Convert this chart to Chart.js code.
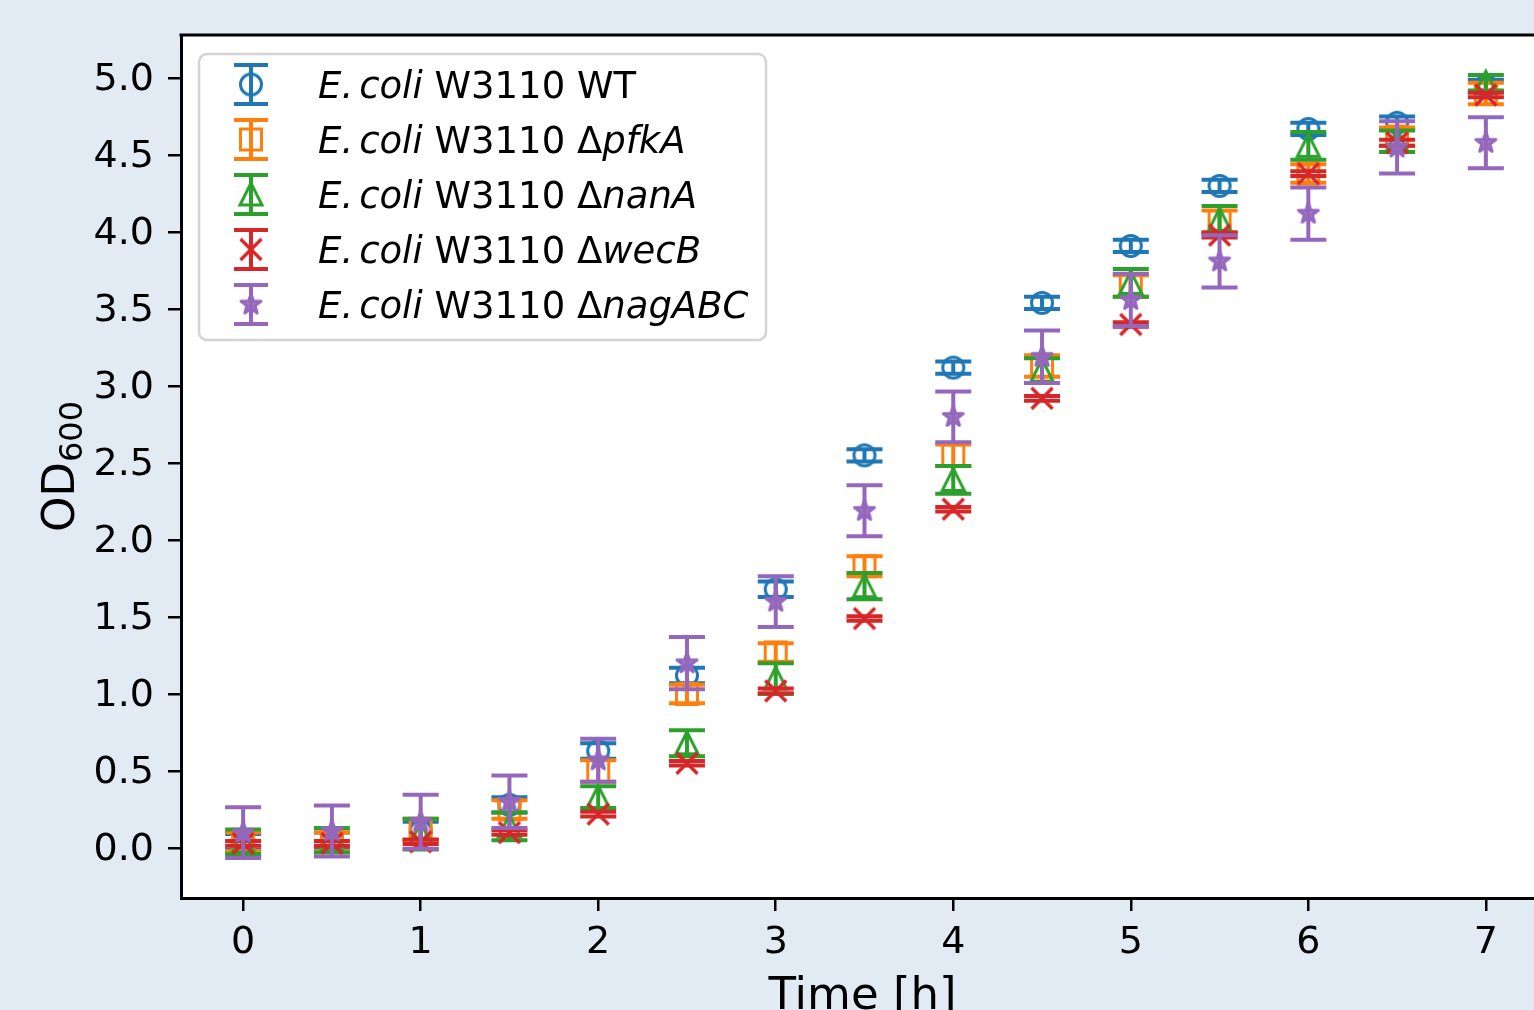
<!DOCTYPE html>
<html>
<head>
<meta charset="utf-8">
<script src="https://cdn.jsdelivr.net/npm/chart.js@4.4.1/dist/chart.umd.min.js"></script>
<style>
html,body{margin:0;padding:0;background:#e2eaf4;overflow:hidden;}
#wrap{position:relative;width:1534px;height:1010px;overflow:hidden;}
canvas{display:block;}
</style>
</head>
<body>
<div id="wrap"><canvas id="c" width="1548" height="1010"></canvas></div>
<script>
// ---------- data ----------
const times = [0, 0.5, 1, 1.5, 2, 2.5, 3, 3.5, 4, 4.5, 5, 5.5, 6, 6.5, 7];

const odWT      = [0.04, 0.05, 0.11, 0.28, 0.63, 1.12, 1.68, 2.55, 3.12, 3.54, 3.91, 4.30, 4.67, 4.71, 4.95];
const errWT     = [0.05, 0.05, 0.06, 0.05, 0.05, 0.05, 0.05, 0.04, 0.04, 0.04, 0.04, 0.04, 0.04, 0.04, 0.04];

const odPfkA    = [0.04, 0.04, 0.12, 0.25, 0.50, 1.00, 1.27, 1.83, 2.55, 3.13, 3.65, 4.07, 4.38, 4.62, 4.90];
const errPfkA   = [0.06, 0.06, 0.07, 0.06, 0.07, 0.06, 0.06, 0.065, 0.07, 0.07, 0.07, 0.07, 0.06, 0.06, 0.07];

const odNanA    = [0.04, 0.05, 0.09, 0.14, 0.33, 0.68, 1.10, 1.70, 2.39, 3.10, 3.67, 4.08, 4.56, 4.59, 4.97];
const errNanA   = [0.08, 0.08, 0.10, 0.09, 0.07, 0.085, 0.10, 0.085, 0.09, 0.08, 0.09, 0.09, 0.09, 0.07, 0.05];

const odWecB    = [0.03, 0.03, 0.04, 0.10, 0.22, 0.55, 1.02, 1.49, 2.20, 2.92, 3.40, 3.98, 4.38, 4.58, 4.89];
const errWecB   = [0.015, 0.015, 0.015, 0.015, 0.015, 0.015, 0.015, 0.015, 0.015, 0.015, 0.015, 0.015, 0.015, 0.02, 0.015];

const odNagABC  = [0.10, 0.11, 0.17, 0.30, 0.57, 1.20, 1.60, 2.19, 2.80, 3.19, 3.56, 3.81, 4.12, 4.55, 4.58];
const errNagABC = [0.165, 0.165, 0.175, 0.17, 0.14, 0.17, 0.165, 0.165, 0.165, 0.17, 0.17, 0.17, 0.17, 0.17, 0.165];

const strainGenes = ['WT', 'pfkA', 'nanA', 'wecB', 'nagABC'];
const xTickValues = [0, 1, 2, 3, 4, 5, 6, 7];
const yTickValues = [0, 0.5, 1, 1.5, 2, 2.5, 3, 3.5, 4, 4.5, 5];
const xLimits = [-0.35, 7.35];
const yLimits = [-0.325, 5.28];

// ---------- styles ----------
const seriesValues = [odWT, odPfkA, odNanA, odWecB, odNagABC];
const seriesErrors = [errWT, errPfkA, errNanA, errWecB, errNagABC];
const colors = ['#1f77b4', '#ff7f0e', '#2ca02c', '#d62728', '#9467bd'];
const markerKinds = ['circle', 'square', 'triangle', 'x', 'star'];
const FONT = '"DejaVu Sans", "Liberation Sans", sans-serif';
const CAP = 18, ELW = 4, SPINE = 3;

function makeMarker(kind, color) {
  const S = 36, c = document.createElement('canvas');
  c.width = S; c.height = S;
  const g = c.getContext('2d');
  g.translate(S / 2, S / 2);
  g.strokeStyle = color; g.fillStyle = color; g.lineWidth = 3; g.lineJoin = 'miter';
  const r = 10.5;
  g.beginPath();
  if (kind === 'circle') {
    g.arc(0, 0, r, 0, Math.PI * 2);
  } else if (kind === 'square') {
    g.rect(-r, -r, 2 * r, 2 * r);
  } else if (kind === 'triangle') {
    g.moveTo(0, -r - 1); g.lineTo(-r - 0.5, r); g.lineTo(r + 0.5, r); g.closePath();
  } else if (kind === 'x') {
    g.lineWidth = 3.5;
    g.moveTo(-r, -r); g.lineTo(r, r); g.moveTo(-r, r); g.lineTo(r, -r);
  } else if (kind === 'star') {
    g.lineJoin = 'round';
    g.lineWidth = 3;
    const R = 10.5, ri = R * 0.40;
    for (let k = 0; k < 10; k++) {
      const a = -Math.PI / 2 + k * Math.PI / 5;
      const rr = k % 2 ? ri : R;
      const px = Math.cos(a) * rr, py = Math.sin(a) * rr;
      if (k === 0) g.moveTo(px, py); else g.lineTo(px, py);
    }
    g.closePath();
    g.globalAlpha = 0.85;
    g.fill();
    g.globalAlpha = 1;
  }
  g.stroke();
  return c;
}
const markerImgs = markerKinds.map((k, i) => makeMarker(k, colors[i]));

const datasets = seriesValues.map((vals, i) => ({
  label: strainGenes[i],
  data: times.map((t, j) => ({ x: t, y: vals[j] })),
  errors: seriesErrors[i],
  pointStyle: markerImgs[i],
  pointRadius: 11,
  showLine: false,
  borderColor: colors[i],
  backgroundColor: 'transparent',
  order: seriesValues.length - i
}));

// ---------- plugins ----------
const bgPlugin = {
  id: 'bg',
  beforeDraw(chart) {
    const { ctx, chartArea: a } = chart;
    ctx.save(); ctx.fillStyle = '#ffffff';
    ctx.fillRect(a.left, a.top, a.right - a.left, a.bottom - a.top);
    ctx.restore();
  }
};

// nudge y tick labels slightly down (matplotlib centre-baseline alignment)
const labelShiftPlugin = {
  id: 'labelshift',
  afterLayout(chart) {
    const ys = chart.scales.y;
    if (ys && !ys._shifted) {
      const orig = ys.drawLabels.bind(ys);
      ys.drawLabels = function (area) {
        const ctx = this.ctx;
        ctx.save(); ctx.translate(0, 2); orig(area); ctx.restore();
      };
      ys._shifted = true;
    }
  }
};

const errorBarPlugin = {
  id: 'errorbars',
  beforeDatasetDraw(chart, args) {
    const ds = chart.data.datasets[args.index];
    const xs = chart.scales.x, ys = chart.scales.y;
    const ctx = chart.ctx;
    const a = chart.chartArea;
    ctx.save();
    ctx.beginPath();
    ctx.rect(a.left, a.top, a.right - a.left, a.bottom - a.top);
    ctx.clip();
    ctx.strokeStyle = ds.borderColor; ctx.lineWidth = ELW; ctx.lineCap = 'butt';
    ds.data.forEach((p, j) => {
      const e = ds.errors[j];
      const px = xs.getPixelForValue(p.x);
      const y1 = ys.getPixelForValue(p.y + e), y2 = ys.getPixelForValue(p.y - e);
      ctx.beginPath();
      ctx.moveTo(px, y1); ctx.lineTo(px, y2);
      ctx.moveTo(px - CAP, y1); ctx.lineTo(px + CAP, y1);
      ctx.moveTo(px - CAP, y2); ctx.lineTo(px + CAP, y2);
      ctx.stroke();
    });
    ctx.restore();
  }
};

const decorPlugin = {
  id: 'decor',
  afterDraw(chart) {
    const { ctx, chartArea: a } = chart;
    ctx.save();
    // top & right spines
    ctx.strokeStyle = '#000'; ctx.lineWidth = SPINE;
    ctx.beginPath();
    ctx.moveTo(a.left - SPINE / 2, a.top); ctx.lineTo(a.right, a.top); ctx.lineTo(a.right, a.bottom);
    ctx.stroke();

    // y axis title: OD with subscript 600
    ctx.fillStyle = '#000';
    ctx.textBaseline = 'alphabetic';
    ctx.font = '45px ' + FONT;
    const w1 = ctx.measureText('OD').width;
    ctx.font = '32px ' + FONT;
    const w2 = ctx.measureText('600').width;
    ctx.translate(74, (a.top + a.bottom) / 2);
    ctx.rotate(-Math.PI / 2);
    const start = -(w1 + w2) / 2;
    ctx.font = '45px ' + FONT;
    ctx.textAlign = 'left';
    ctx.fillText('OD', start, 0);
    ctx.font = '32px ' + FONT;
    ctx.fillText('600', start + w1, 8);
    ctx.setTransform(1, 0, 0, 1, 0, 0);

    // x axis title
    ctx.font = '45px ' + FONT;
    ctx.textAlign = 'center';
    ctx.fillText('Time [h]', (a.left + a.right) / 2 - 2, 1009);

    // legend
    const lx = 199, ly = 54, lw = 567, lh = 286, rad = 8;
    ctx.beginPath();
    ctx.moveTo(lx + rad, ly);
    ctx.arcTo(lx + lw, ly, lx + lw, ly + lh, rad);
    ctx.arcTo(lx + lw, ly + lh, lx, ly + lh, rad);
    ctx.arcTo(lx, ly + lh, lx, ly, rad);
    ctx.arcTo(lx, ly, lx + lw, ly, rad);
    ctx.closePath();
    ctx.fillStyle = 'rgba(255,255,255,0.8)';
    ctx.fill();
    ctx.strokeStyle = '#d3d3d3'; ctx.lineWidth = 2.5;
    ctx.stroke();

    const mx = 251, tx = 318;
    strainGenes.forEach((gene, i) => {
      const cy = 84.5 + i * 55;
      ctx.strokeStyle = colors[i]; ctx.lineWidth = ELW; ctx.lineCap = 'butt';
      ctx.beginPath();
      ctx.moveTo(mx, cy - 19.5); ctx.lineTo(mx, cy + 19.5);
      ctx.moveTo(mx - 17, cy - 19.5); ctx.lineTo(mx + 17, cy - 19.5);
      ctx.moveTo(mx - 17, cy + 19.5); ctx.lineTo(mx + 17, cy + 19.5);
      ctx.stroke();
      const img = markerImgs[i];
      ctx.drawImage(img, mx - img.width / 2, cy - img.height / 2);

      const segs = [
        { t: 'E.', it: true, gap: 6 },
        { t: 'coli', it: true, gap: 0 },
        { t: ' W3110 ', it: false, gap: 0 }
      ];
      if (gene === 'WT') segs.push({ t: 'WT', it: false, gap: 0 });
      else { segs.push({ t: '\u0394', it: false, gap: 0 }); segs.push({ t: gene, it: true, gap: 0 }); }
      let x = tx;
      ctx.fillStyle = '#000'; ctx.textAlign = 'left'; ctx.textBaseline = 'alphabetic';
      segs.forEach(s => {
        ctx.font = (s.it ? 'italic ' : '') + '37px ' + FONT;
        ctx.fillText(s.t, x, cy + 13.5);
        x += ctx.measureText(s.t).width + s.gap;
      });
    });
    ctx.restore();
  }
};

function fixPad(scale) {
  scale.paddingTop = 0; scale.paddingBottom = 0; scale.paddingLeft = 0; scale.paddingRight = 0;
}

new Chart(document.getElementById('c'), {
  type: 'scatter',
  data: { datasets },
  options: {
    responsive: false,
    devicePixelRatio: 1,
    animation: false,
    events: [],
    layout: { autoPadding: false, padding: { top: 35, left: 0, right: 0, bottom: 0 } },
    plugins: { legend: { display: false }, tooltip: { enabled: false } },
    scales: {
      x: {
        type: 'linear', min: xLimits[0], max: xLimits[1],
        afterBuildTicks(s) { s.ticks = xTickValues.map(v => ({ value: v })); },
        afterFit(s) { s.height = 112; fixPad(s); },
        ticks: { font: { family: FONT, size: 38 }, color: '#000', padding: 9, maxRotation: 0, autoSkip: false, callback: v => String(v) },
        grid: { display: true, drawOnChartArea: false, drawTicks: true, tickLength: 13, color: '#000', lineWidth: 2.5 },
        border: { display: true, color: '#000', width: SPINE }
      },
      y: {
        type: 'linear', min: yLimits[0], max: yLimits[1],
        afterBuildTicks(s) { s.ticks = yTickValues.map(v => ({ value: v })); },
        afterFit(s) { s.width = 181; fixPad(s); },
        ticks: { font: { family: FONT, size: 38 }, color: '#000', padding: 14, autoSkip: false, callback: v => Number(v).toFixed(1) },
        grid: { display: true, drawOnChartArea: false, drawTicks: true, tickLength: 13, color: '#000', lineWidth: 2.5 },
        border: { display: true, color: '#000', width: SPINE }
      }
    }
  },
  plugins: [bgPlugin, labelShiftPlugin, errorBarPlugin, decorPlugin]
});
</script>
</body>
</html>
